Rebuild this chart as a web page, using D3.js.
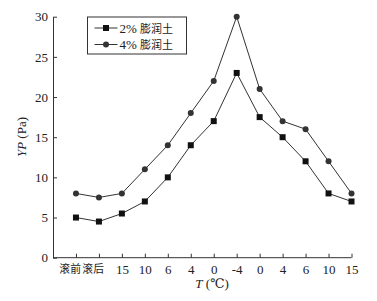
<!DOCTYPE html>
<html><head><meta charset="utf-8">
<script src="https://cdn.jsdelivr.net/npm/d3@7"></script>
<style>
body{margin:0;background:#fff;}
svg{display:block;}
</style></head>
<body>
<svg id="c" width="377" height="301"></svg>
<script>
const categories = ["滚前","滚后","15","10","6","4","0","-4","0","4","6","10","15"];
const series2 = [5,4.5,5.5,7,10,14,17,23,17.5,15,12,8,7];
const series4 = [8,7.5,8,11,14,18,22,30,21,17,16,12,8];
const yTicks = [0,5,10,15,20,25,30];
const seriesNames = ["2% 膨润土","4% 膨润土"];

const SERIF = '"Liberation Serif","Times New Roman",Times,"DejaVu Serif",serif';
const CJK = '"Noto Sans CJK SC","Noto Sans CJK TC",sans-serif';
const svg = d3.select("#c");
const x = d3.scaleLinear().domain([-1, categories.length-1]).range([53, 351.5]);
const y = d3.scaleLinear().domain([0,30]).range([257.7, 16.7]);
const col = "#333";

const xAxis = d3.axisBottom(x).tickValues(d3.range(categories.length))
  .tickFormat(i => categories[i]).tickSizeInner(-4).tickSizeOuter(0).tickPadding(7);
const gx = svg.append("g").attr("transform",`translate(0,${y(0)})`).call(xAxis);
gx.attr("font-family",SERIF);
gx.select(".domain").attr("d",`M${x(-1)},0H${x(categories.length-1)}`);
gx.selectAll(".tick text").each(function(d){
  const s = d3.select(this);
  if(/[\u4e00-\u9fff]/.test(categories[d])) s.attr("font-size",10.8).attr("font-family",CJK).attr("dx",-6.3).attr("y",7.5);
  else s.attr("font-size",13).attr("font-family",SERIF);
});
const yAxis = d3.axisLeft(y).tickValues(yTicks).tickSizeInner(-4).tickSizeOuter(0).tickPadding(5);
const gy = svg.append("g").attr("transform",`translate(${x(-1)},0)`).call(yAxis);
gy.attr("font-family",SERIF);
gy.selectAll(".tick text").attr("font-size",13).attr("font-family",SERIF);
svg.selectAll(".domain, .tick line").attr("stroke",col).attr("stroke-width",1);
svg.selectAll(".tick text").attr("fill","#222");

const line = d3.line().x((d,i)=>x(i)).y(d=>y(d));
[series2, series4].forEach((s)=>{
  svg.append("path").datum(s).attr("d",line).attr("fill","none").attr("stroke",col).attr("stroke-width",1);
});
svg.append("g").selectAll("rect").data(series2).join("rect")
  .attr("x",(d,i)=>x(i)-3).attr("y",d=>y(d)-3).attr("width",6).attr("height",6).attr("fill","#111");
svg.append("g").selectAll("circle").data(series4).join("circle")
  .attr("cx",(d,i)=>x(i)).attr("cy",d=>y(d)).attr("r",3).attr("fill","#333");

// legend
const lg = svg.append("g");
lg.append("rect").attr("x",87.5).attr("y",17).attr("width",99).attr("height",37)
  .attr("fill","#fff").attr("stroke",col).attr("stroke-width",1);
seriesNames.forEach((n,k)=>{
  const yy = 28 + k*16.5;
  lg.append("line").attr("x1",94.5).attr("x2",117.5).attr("y1",yy).attr("y2",yy).attr("stroke",col);
  if(k===0) lg.append("rect").attr("x",103).attr("y",yy-3).attr("width",6).attr("height",6).attr("fill","#111");
  else lg.append("circle").attr("cx",106).attr("cy",yy).attr("r",3).attr("fill","#333");
  const t = lg.append("text").attr("x",119.5).attr("y",yy+4.5).attr("font-size",13).attr("fill","#222");
  const parts = n.split(" ");
  t.append("tspan").attr("font-family",SERIF).text(parts[0]+" ");
  t.append("tspan").attr("font-size",11).attr("font-family",CJK).text(parts[1]);
});

// axis titles
const yl = svg.append("text").attr("transform","translate(25.5,137) rotate(-90)")
  .attr("text-anchor","middle").attr("font-size",13).attr("font-family",SERIF).attr("fill","#222");
yl.append("tspan").attr("font-style","italic").text("YP");
yl.append("tspan").text(" (Pa)");
const xl = svg.append("text").attr("x",212).attr("y",288).attr("text-anchor","middle")
  .attr("font-size",13).attr("font-family",SERIF).attr("fill","#222");
xl.append("tspan").attr("font-style","italic").text("T");
xl.append("tspan").text(" (℃)");
</script>
</body></html>
